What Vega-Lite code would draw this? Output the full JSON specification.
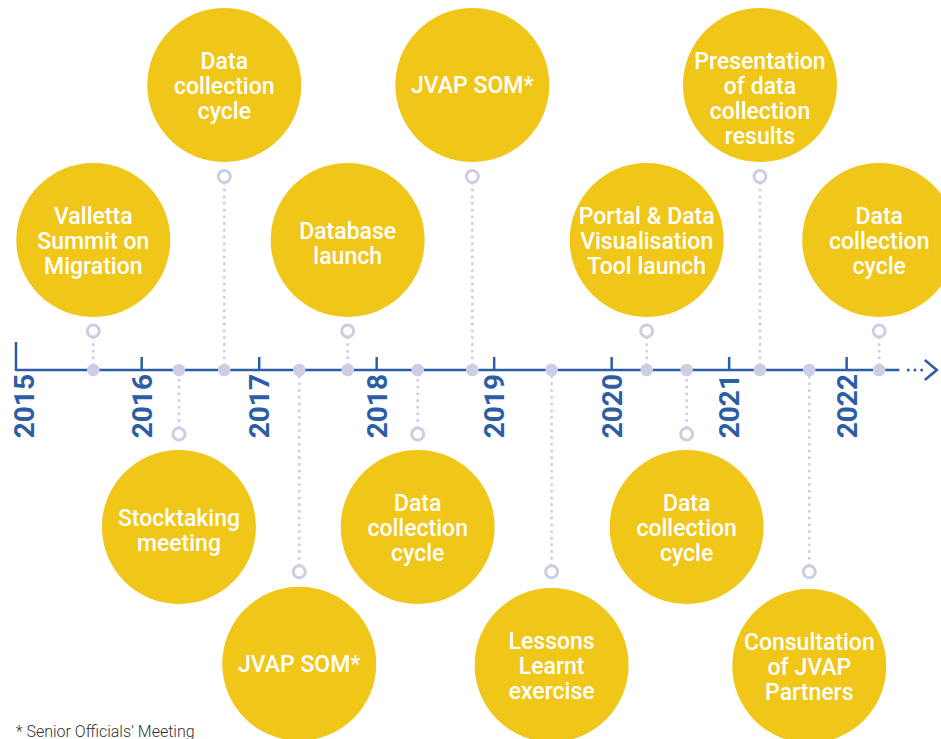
{
  "$schema": "https://vega.github.io/schema/vega-lite/v6.json",
  "width": 941,
  "height": 739,
  "padding": 0,
  "autosize": {"type": "none"},
  "background": "white",
  "config": {"view": {"stroke": null}},
  "datasets": {
    "events": [
      {"event": "Valletta Summit on Migration", "t": 2015.588, "circle": 130, "stem": 39, "label": ["Valletta", "Summit on", "Migration"]},
      {"event": "Stocktaking meeting", "t": 2016.317, "circle": -157, "stem": -64, "label": ["Stocktaking", "meeting"]},
      {"event": "Data collection cycle", "t": 2016.703, "circle": 285, "stem": 193.5, "label": ["Data", "collection", "cycle"]},
      {"event": "JVAP SOM*", "t": 2017.341, "circle": -293.7, "stem": -201.7, "label": ["JVAP SOM*"]},
      {"event": "Database launch", "t": 2017.753, "circle": 130, "stem": 39, "label": ["Database", "launch"]},
      {"event": "Data collection cycle", "t": 2018.349, "circle": -157, "stem": -64, "label": ["Data", "collection", "cycle"]},
      {"event": "JVAP SOM*", "t": 2018.814, "circle": 285, "stem": 193.5, "label": ["JVAP SOM*"]},
      {"event": "Lessons Learnt exercise", "t": 2019.489, "circle": -295, "stem": -201.7, "label": ["Lessons", "Learnt", "exercise"]},
      {"event": "Portal & Data Visualisation Tool launch", "t": 2020.298, "circle": 130, "stem": 39, "label": ["Portal & Data", "Visualisation", "Tool launch"]},
      {"event": "Data collection cycle", "t": 2020.638, "circle": -157, "stem": -64, "label": ["Data", "collection", "cycle"]},
      {"event": "Presentation of data collection results", "t": 2021.262, "circle": 285, "stem": 193.5, "label": ["Presentation", "of data", "collection", "results"]},
      {"event": "Consultation of JVAP Partners", "t": 2021.682, "circle": -296, "stem": -201.7, "label": ["Consultation", "of JVAP", "Partners"]},
      {"event": "Data collection cycle", "t": 2022.277, "circle": 130, "stem": 39, "label": ["Data", "collection", "cycle"]}
    ],
    "years": [
      {"year": 2015}, {"year": 2016}, {"year": 2017}, {"year": 2018},
      {"year": 2019}, {"year": 2020}, {"year": 2021}, {"year": 2022}
    ],
    "axis": [
      {"start": 2014.93, "end": 2022.448, "more_from": 2022.524, "more_to": 2022.645, "head": 2022.716}
    ]
  },
  "layer": [
    {
      "data": {"name": "events"},
      "mark": {"type": "rule", "color": "#CBCFE4", "strokeWidth": 3, "strokeCap": "round", "strokeDash": [0.01, 6.7]},
      "encoding": {
        "x": {"field": "t", "type": "quantitative", "scale": {"domain": [2014.794, 2022.803], "nice": false, "zero": false}, "axis": null},
        "y": {"field": "stem", "type": "quantitative", "scale": {"domain": [-369, 370], "nice": false, "zero": false}, "axis": null},
        "y2": {"datum": 0}
      }
    },
    {
      "data": {"name": "axis"},
      "mark": {"type": "rule", "color": "#2D5EA5", "strokeWidth": 2.5},
      "encoding": {
        "x": {"field": "start", "type": "quantitative"},
        "x2": {"field": "end"},
        "y": {"datum": 0}
      }
    },
    {
      "data": {"name": "axis"},
      "mark": {"type": "rule", "color": "#2D5EA5", "strokeWidth": 2.5},
      "encoding": {
        "x": {"field": "start", "type": "quantitative"},
        "y": {"datum": -1},
        "y2": {"datum": 28}
      }
    },
    {
      "data": {"name": "axis"},
      "mark": {"type": "rule", "color": "#2D5EA5", "strokeWidth": 3, "strokeCap": "round", "strokeDash": [0.01, 6.7]},
      "encoding": {
        "x": {"field": "more_from", "type": "quantitative"},
        "x2": {"field": "more_to"},
        "y": {"datum": 0}
      }
    },
    {
      "data": {"name": "axis"},
      "mark": {"type": "point", "shape": "M-0.6,-1L0.6,0L-0.6,1", "filled": false, "color": "#2D5EA5", "strokeWidth": 2.6, "size": 400, "opacity": 1},
      "encoding": {
        "x": {"field": "head", "type": "quantitative"},
        "y": {"datum": 0}
      }
    },
    {
      "data": {"name": "years"},
      "transform": [{"filter": "datum.year > 2015"}],
      "mark": {"type": "rule", "color": "#2D5EA5", "strokeWidth": 2.5},
      "encoding": {
        "x": {"field": "year", "type": "quantitative"},
        "y": {"datum": 0},
        "y2": {"datum": 13}
      }
    },
    {
      "data": {"name": "events"},
      "mark": {"type": "point", "filled": true, "color": "#CBCFE4", "size": 160, "opacity": 1},
      "encoding": {
        "x": {"field": "t", "type": "quantitative"},
        "y": {"datum": 0}
      }
    },
    {
      "data": {"name": "events"},
      "mark": {"type": "point", "filled": true, "fill": "white", "stroke": "#CBCFE4", "strokeWidth": 3, "size": 144, "opacity": 1},
      "encoding": {
        "x": {"field": "t", "type": "quantitative"},
        "y": {"field": "stem", "type": "quantitative"}
      }
    },
    {
      "data": {"name": "events"},
      "mark": {"type": "point", "filled": true, "color": "#F0C619", "size": 23716, "opacity": 1},
      "encoding": {
        "x": {"field": "t", "type": "quantitative"},
        "y": {"field": "circle", "type": "quantitative"}
      }
    },
    {
      "data": {"name": "events"},
      "transform": [{"filter": "length(datum.label) == 1"}],
      "mark": {"type": "text", "color": "white", "font": "Roboto", "fontWeight": 500, "fontSize": 23, "lineHeight": 25, "align": "center", "baseline": "middle", "dy": 1},
      "encoding": {
        "x": {"field": "t", "type": "quantitative"},
        "y": {"field": "circle", "type": "quantitative"},
        "text": {"field": "label"}
      }
    },
    {
      "data": {"name": "events"},
      "transform": [{"filter": "length(datum.label) == 2"}],
      "mark": {"type": "text", "color": "white", "font": "Roboto", "fontWeight": 500, "fontSize": 23, "lineHeight": 25, "align": "center", "baseline": "middle", "dy": -8},
      "encoding": {
        "x": {"field": "t", "type": "quantitative"},
        "y": {"field": "circle", "type": "quantitative"},
        "text": {"field": "label"}
      }
    },
    {
      "data": {"name": "events"},
      "transform": [{"filter": "length(datum.label) == 3"}],
      "mark": {"type": "text", "color": "white", "font": "Roboto", "fontWeight": 500, "fontSize": 23, "lineHeight": 25, "align": "center", "baseline": "middle", "dy": -23},
      "encoding": {
        "x": {"field": "t", "type": "quantitative"},
        "y": {"field": "circle", "type": "quantitative"},
        "text": {"field": "label"}
      }
    },
    {
      "data": {"name": "events"},
      "transform": [{"filter": "length(datum.label) == 4"}],
      "mark": {"type": "text", "color": "white", "font": "Roboto", "fontWeight": 500, "fontSize": 23, "lineHeight": 25, "align": "center", "baseline": "middle", "dy": -23},
      "encoding": {
        "x": {"field": "t", "type": "quantitative"},
        "y": {"field": "circle", "type": "quantitative"},
        "text": {"field": "label"}
      }
    },
    {
      "data": {"name": "years"},
      "mark": {"type": "text", "color": "#2D5EA5", "font": "Roboto", "fontWeight": "bold", "fontSize": 28, "angle": 270, "align": "left", "baseline": "middle", "dy": 2},
      "encoding": {
        "x": {"field": "year", "type": "quantitative"},
        "y": {"datum": -68.3},
        "text": {"field": "year", "type": "nominal"}
      }
    },
    {
      "data": {"values": [{"note": "* Senior Officials’ Meeting"}]},
      "mark": {"type": "text", "color": "#333333", "font": "Roboto", "fontWeight": 300, "fontSize": 16, "align": "left", "baseline": "alphabetic"},
      "encoding": {
        "x": {"datum": 2014.928},
        "y": {"datum": -367},
        "text": {"field": "note"}
      }
    }
  ]
}
